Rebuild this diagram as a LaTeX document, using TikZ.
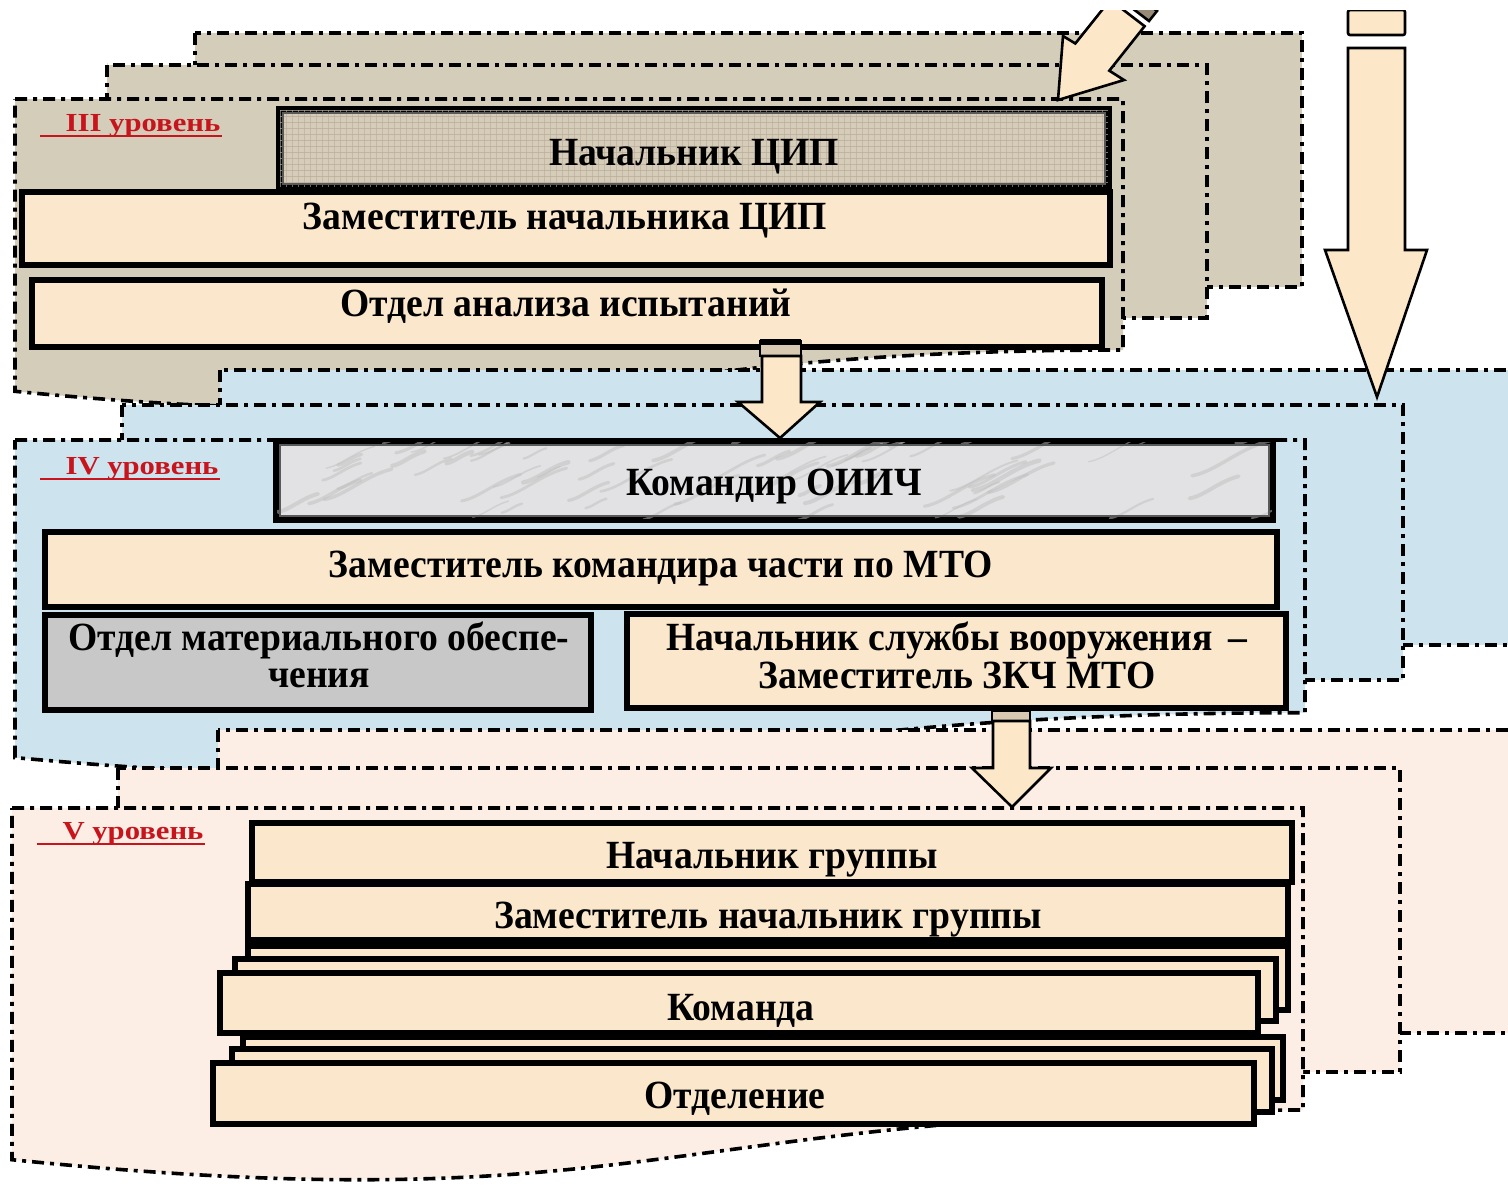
\documentclass[tikz,border=0pt]{standalone}
\usepackage{fontspec}
\usepackage{graphicx}
\setmainfont{Liberation Serif}
\newfontfamily\boxfont[FakeStretch=0.94]{Liberation Serif}
\usetikzlibrary{fit}
\definecolor{tanP}{RGB}{211,205,186}
\definecolor{blueP}{RGB}{205,228,239}
\definecolor{peachP}{RGB}{252,238,228}
\definecolor{boxF}{RGB}{251,232,204}
\definecolor{burlap}{RGB}{214,204,186}
\definecolor{burlapD}{RGB}{186,172,150}
\definecolor{marble}{RGB}{226,226,228}
\definecolor{grayB}{RGB}{200,200,200}
\definecolor{arrowF}{RGB}{252,232,200}
\definecolor{lvlred}{RGB}{200,20,28}
\begin{document}
\begin{tikzpicture}[x=0.5pt,y=-0.5pt,
  panel/.style={draw=black, line width=1.8pt, dash pattern=on 6pt off 3pt on 2pt off 3pt},
  box/.style={draw=black, line width=2.6pt, fill=boxF, inner sep=0pt},
  txt/.style={font=\boxfont\bfseries\fontsize{20}{22}\selectfont, anchor=base, inner sep=0pt},
  lvl/.style={font=\bfseries\fontsize{13}{15}\selectfont, text=lvlred, anchor=base, inner sep=0pt},
  uline/.style={draw=lvlred, line width=1.4pt},
  blockarrow/.style={draw=black, line width=1.3pt, fill=arrowF, line join=miter},
  stripe/.style={draw=black, line width=1.3pt, fill=arrowF!70!gray}]
\useasboundingbox (0,0) rectangle (1508,1185);
\clip (0,0) rectangle (1508,1185);
\fill[white] (0,0) rectangle (1508,1185);

% ---------- Level III panels ----------
\path[panel, fill=tanP] (195,33) rectangle (1302,287);
\path[panel, fill=tanP] (107,65) rectangle (1207,318);
\path[panel, fill=tanP] (15,99) -- (1123,99) -- (1123,350) .. controls (569,350) and (569,445.5) .. (15,391.3) -- cycle;

% ---------- Level IV panels ----------
\path[panel, fill=blueP] (220,370) rectangle (1540,645);
\path[panel, fill=blueP] (122,405) rectangle (1403,680);
\path[panel, fill=blueP] (15,440) -- (1305,440) -- (1305,712.7) .. controls (660,712.7) and (660,816.4) .. (15,757.6) -- cycle;

% ---------- Level V panels ----------
\path[panel, fill=peachP] (218,730) rectangle (1540,1033);
\path[panel, fill=peachP] (118,768) rectangle (1400,1072);
\path[panel, fill=peachP] (12,808) -- (1303,808) -- (1303,1110) .. controls (657.5,1110) and (657.5,1224.9) .. (12,1159.7) -- cycle;

% ---------- Level labels ----------
\node[lvl] (l3) at (143,131) {\scalebox{1.18}[1]{III уровень}};
\draw[uline] (40,136) -- (222,136);
\node[lvl] (l4) at (142,474) {\scalebox{1.18}[1]{IV уровень}};
\draw[uline] (40,479) -- (220,479);
\node[lvl] (l5) at (133,839) {\scalebox{1.18}[1]{V уровень}};
\draw[uline] (37,844) -- (205,844);

% ---------- Level III boxes ----------
\node[box, fill=burlap, line width=2pt, fit={(280,110) (1108,187)}] (nachcip) {};
\begin{scope}
  \clip (nachcip.north west) rectangle (nachcip.south east);
  \foreach \i in {0,...,140} {\draw[burlapD, line width=0.4pt, opacity=0.6] (280+\i*6,110) -- (280+\i*6,187);}
  \foreach \j in {0,...,13} {\draw[burlapD, line width=0.5pt, opacity=0.7] (280,110+\j*6) -- (1108,110+\j*6);}
\end{scope}
\draw[black, line width=2.2pt] (nachcip.north west) rectangle (nachcip.south east);
\draw[gray!70!black, line width=0.9pt] ([xshift=2.5pt,yshift=-2.5pt]nachcip.north west) rectangle ([xshift=-2.5pt,yshift=2.5pt]nachcip.south east);
\node[txt] (tnachcip) at (694,165) {Начальник ЦИП};

\node[box, fit={(22,192) (1110,265)}] (zamcip) {};
\node[txt] (tzamcip) at (565,229) {Заместитель начальника ЦИП};

\node[box, fit={(32,280) (1102,347)}] (otdan) {};
\node[txt] (totdan) at (566,316) {Отдел анализа испытаний};

% ---------- Level IV boxes ----------
\node[box, fill=marble, line width=2pt, fit={(277,442) (1272,519)}] (komoiich) {};
\begin{scope}
  \clip (komoiich.north west) rectangle (komoiich.south east);
  \pgfmathsetseed{11}
  \foreach \i in {1,...,70} {
    \pgfmathsetmacro{\xa}{277+rnd*1000}
    \pgfmathsetmacro{\ya}{442+rnd*80}
    \pgfmathsetmacro{\ll}{20+rnd*60}
    \draw[gray!50, line width=0.6pt+rnd*1.6pt, opacity=0.5, line cap=round] (\xa,\ya) .. controls (\xa+\ll*0.3,\ya-\ll*0.05) and (\xa+\ll*0.6,\ya-\ll*0.35) .. (\xa+\ll,\ya-\ll*0.45);
  }
\end{scope}
\draw[black, line width=2.2pt] (komoiich.north west) rectangle (komoiich.south east);
\draw[gray!70!black, line width=0.9pt] ([xshift=2.5pt,yshift=-2.5pt]komoiich.north west) rectangle ([xshift=-2.5pt,yshift=2.5pt]komoiich.south east);
\node[txt] (tkomoiich) at (774,495) {Командир ОИИЧ};

\node[box, fit={(45,532) (1277,607)}] (zammto) {};
\node[txt] (tzammto) at (661,577) {Заместитель командира части по МТО};

\node[box, fill=grayB, fit={(45,615) (591,710)}] (otdmat) {};
\node[txt] (totdmat1) at (319,650) {Отдел материального обеспе-};
\node[txt] (totdmat2) at (319,687) {чения};

\node[box, fit={(627,614) (1286,708)}] (nachsl) {};
\node[txt] (tnachsl1) at (957,650) {Начальник службы вооружения \,–};
\node[txt] (tnachsl2) at (957,688) {Заместитель ЗКЧ МТО};

% ---------- Level V boxes ----------
\node[box, fit={(252,823) (1292,882)}] (nachgr) {};
\node[txt] (tnachgr) at (772,868) {Начальник группы};

\node[box, fit={(248,884) (1288,940)}] (zamgr) {};
\node[txt] (tzamgr) at (768,928) {Заместитель начальник группы};

\node[box, fit={(248,946) (1288,1010)}] (kom3) {};
\node[box, fit={(235,959) (1276,1021)}] (kom2) {};
\node[box, fit={(220,973) (1258,1033)}] (kom1) {};
\node[txt] (tkom) at (741,1020) {Команда};

\node[box, fit={(243,1037) (1283,1100)}] (otd3) {};
\node[box, fit={(232,1049) (1272,1112)}] (otd2) {};
\node[box, fit={(213,1063) (1254,1124)}] (otd1) {};
\node[txt] (totd) at (735,1108) {Отделение};

% ---------- Block arrows ----------
% III -> IV
\coordinate (a1tip) at (780,438);
\path[stripe] (760,341) rectangle (801,356);
\draw[black, line width=3pt] (760,342) -- (801,342);
\path[blockarrow] (762,356) -- (762,402) -- (738,402) -- (a1tip) -- (820,402) -- (801,402) -- (801,356) -- cycle;

% IV -> V
\coordinate (a2tip) at (1012,807);
\path[stripe] (992,708) rectangle (1030,721);
\draw[black, line width=3pt] (992,709) -- (1030,709);
\path[blockarrow] (993,721) -- (993,768) -- (972,768) -- (a2tip) -- (1051,768) -- (1030,768) -- (1030,721) -- cycle;

% right long arrow and top diagonal arrow
\begin{scope}
  \clip (0,10) rectangle (1508,1185);
  \coordinate (a3tip) at (1377,397);
  \path[stripe, fill=arrowF, rounded corners=1pt] (1348,10) rectangle (1405,35);
  \path[blockarrow] (1348,48) -- (1405,48) -- (1405,250) -- (1427,250) -- (a3tip) -- (1325,250) -- (1348,250) -- cycle;
  \coordinate (a4tip) at (1058,100);
  \path[blockarrow] (a4tip) -- (1063,36) -- (1075.3,43.5) -- (1110.2,-0.2) -- (1144.6,26.2) -- (1109.3,70.7) -- (1124,80) -- cycle;
  \path[stripe, fill=arrowF!60!black] (1128,5) -- (1149,21) -- (1157,11) -- (1136,-5) -- cycle;
\end{scope}
\end{tikzpicture}
\end{document}
